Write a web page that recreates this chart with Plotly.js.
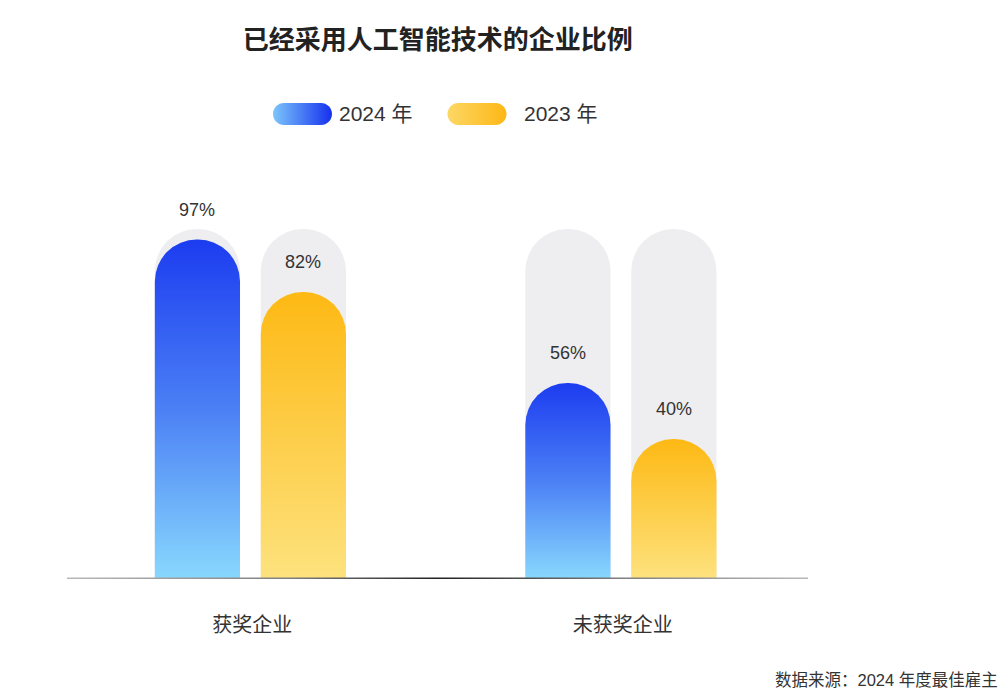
<!DOCTYPE html>
<html>
<head>
<meta charset="utf-8">
<script src="https://cdn.plot.ly/plotly-3.0.1.min.js"></script>
<style>
  html, body { margin: 0; padding: 0; background: #fff; }
  #plot { width: 1005px; height: 700px; }
</style>
</head>
<body>
<div id="plot"></div>
<script>
// data
var categories = ["获奖企业", "未获奖企业"];
var values2024 = [97, 56];
var values2023 = [82, 40];
var fullValues = [100, 100];
var seriesNames = ["2024 年", "2023 年"];

var catIndex = categories.map(function (c, i) { return i; });
var barWidth = 0.23;
var offset2024 = -0.263;
var offset2023 = 0.023;

var cjk = "Liberation Sans, Noto Sans CJK SC, sans-serif";

// grey 100% pills sit on the base subplot, value bars on an overlaid one
// so each set gets its own rounded top
function bgTrace(off) {
  return {
    type: "bar",
    x: catIndex,
    y: fullValues,
    width: barWidth,
    offset: off,
    marker: { color: "#eeeef1", cornerradius: "50%", line: { width: 0 } },
    hoverinfo: "skip",
    showlegend: false
  };
}

function valueTrace(vals, off, color, name) {
  return {
    type: "bar",
    name: name,
    x: catIndex,
    y: vals,
    xaxis: "x2",
    yaxis: "y2",
    width: barWidth,
    offset: off,
    marker: { color: color, cornerradius: "50%", line: { width: 0 } },
    showlegend: false
  };
}

var data = [
  bgTrace(offset2024),
  bgTrace(offset2023),
  valueTrace(values2024, offset2024, "#3a62f2", seriesNames[0]),
  valueTrace(values2023, offset2023, "#fdc42c", seriesNames[1])
];

// value labels above each bar
var annotations = [];
[values2024, values2023].forEach(function (vals, s) {
  var off = s === 0 ? offset2024 : offset2023;
  vals.forEach(function (v, i) {
    annotations.push({
      x: i + off + barWidth / 2, y: v, xref: "x", yref: "y",
      text: v + "%", showarrow: false, yshift: 30,
      font: { family: cjk, size: 18, color: "#333" }
    });
  });
});

// legend text and source note
annotations.push(
  { x: 0.3644, y: 1.022, xref: "paper", yref: "paper", xanchor: "left", yanchor: "middle",
    text: seriesNames[0], showarrow: false, font: { family: cjk, size: 21, color: "#333" } },
  { x: 0.614, y: 1.022, xref: "paper", yref: "paper", xanchor: "left", yanchor: "middle",
    text: seriesNames[1], showarrow: false, font: { family: cjk, size: 21, color: "#333" } },
  { x: 1.259, y: -0.222, xref: "paper", yref: "paper", xanchor: "right", yanchor: "middle",
    text: "数据来源：2024 年度最佳雇主", showarrow: false,
    font: { family: cjk, size: 16.5, color: "#333" } }
);

var pill = "M -18.5,-11 L 18.5,-11 C 24.58,-11 29.5,-6.08 29.5,0 C 29.5,6.08 24.58,11 18.5,11 " +
           "L -18.5,11 C -24.58,11 -29.5,6.08 -29.5,0 C -29.5,-6.08 -24.58,-11 -18.5,-11 Z";

var shapes = [
  // baseline
  { type: "rect", xref: "paper", yref: "y", x0: 0, x1: 1, y0: -0.45, y1: 0.45,
    fillcolor: "#888", line: { width: 0 }, layer: "above" },
  // legend pills
  { type: "path", xref: "paper", yref: "paper", xsizemode: "pixel", ysizemode: "pixel",
    xanchor: 0.3178, yanchor: 1.022, path: pill, fillcolor: "#3a62f2", line: { width: 0 } },
  { type: "path", xref: "paper", yref: "paper", xsizemode: "pixel", ysizemode: "pixel",
    xanchor: 0.5533, yanchor: 1.022, path: pill, fillcolor: "#fdc42c", line: { width: 0 } }
];

var layout = {
  width: 1005,
  height: 700,
  margin: { l: 67, r: 197, t: 124, b: 121 },
  paper_bgcolor: "#fff",
  plot_bgcolor: "#fff",
  barmode: "overlay",
  showlegend: false,
  title: {
    text: "<b>已经采用人工智能技术的企业比例</b>",
    x: 0.4355, xanchor: "center", xref: "container",
    y: 0.943, yanchor: "middle", yref: "container",
    font: { family: "Noto Sans CJK SC, sans-serif", size: 26, color: "#222" }
  },
  xaxis: {
    range: [-0.5, 1.5],
    tickvals: catIndex,
    ticktext: categories,
    ticks: "",
    showgrid: false,
    zeroline: false,
    showline: false,
    ticklabelstandoff: 32,
    tickfont: { family: "Noto Sans CJK SC, sans-serif", size: 20, color: "#333" },
    fixedrange: true
  },
  yaxis: {
    range: [0, 130],
    visible: false,
    showgrid: false,
    zeroline: false,
    fixedrange: true
  },
  xaxis2: {
    range: [-0.5, 1.5],
    overlaying: "x",
    visible: false,
    showgrid: false,
    zeroline: false,
    fixedrange: true
  },
  yaxis2: {
    range: [0, 130],
    overlaying: "y",
    visible: false,
    showgrid: false,
    zeroline: false,
    fixedrange: true
  },
  annotations: annotations,
  shapes: shapes
};

function addGradients(gd) {
  var ns = "http://www.w3.org/2000/svg";
  var svg = gd.querySelector(".main-svg");
  var defs = document.createElementNS(ns, "defs");
  function grad(id, vertical, stops) {
    var g = document.createElementNS(ns, "linearGradient");
    g.setAttribute("id", id);
    g.setAttribute("x1", "0"); g.setAttribute("y1", "0");
    g.setAttribute("x2", vertical ? "0" : "1"); g.setAttribute("y2", vertical ? "1" : "0");
    stops.forEach(function (s) {
      var st = document.createElementNS(ns, "stop");
      st.setAttribute("offset", s[0]);
      st.setAttribute("stop-color", s[1]);
      g.appendChild(st);
    });
    defs.appendChild(g);
  }
  grad("gBlue", true, [["0", "#1c3cf0"], ["0.5", "#4b80f5"], ["1", "#88d8fd"]]);
  grad("gYellow", true, [["0", "#fdb914"], ["1", "#fde27e"]]);
  grad("gBlueH", false, [["0", "#7cc6fb"], ["1", "#1530ee"]]);
  grad("gYellowH", false, [["0", "#fdd765"], ["1", "#fdb716"]]);
  grad("gLine", false, [["0", "#b8b8b8"], ["0.3", "#808080"], ["0.5", "#222"], ["0.75", "#808080"], ["1", "#b8b8b8"]]);
  svg.insertBefore(defs, svg.firstChild);

  var fills = { 2: "url(#gBlue)", 3: "url(#gYellow)" };
  gd._fullData.forEach(function (fd, i) {
    if (!fills[i]) return;
    gd.querySelectorAll(".barlayer .trace").forEach(function (t) {
      var d = t.__data__;
      if (d && d[0] && d[0].trace && d[0].trace.index === i) {
        t.querySelectorAll("path").forEach(function (p) { p.style.fill = fills[i]; });
      }
    });
  });

  var shapeFills = ["url(#gLine)", "url(#gBlueH)", "url(#gYellowH)"];
  shapeFills.forEach(function (f, i) {
    gd.querySelectorAll('.shapelayer path[data-index="' + i + '"]').forEach(function (p) {
      p.style.fill = f;
    });
  });
}

Plotly.newPlot("plot", data, layout, { staticPlot: true, displayModeBar: false })
  .then(addGradients);
</script>
</body>
</html>
